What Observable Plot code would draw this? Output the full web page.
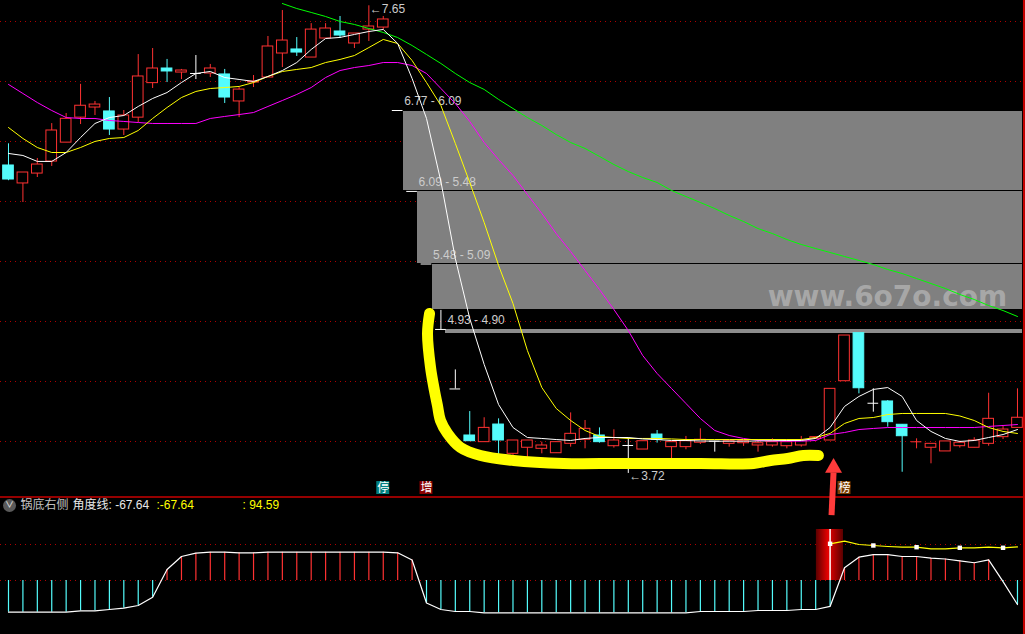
<!DOCTYPE html>
<html><head><meta charset="utf-8">
<script src="https://cdn.jsdelivr.net/npm/d3@7"></script>
<script src="https://cdn.jsdelivr.net/npm/@observablehq/plot@0.6"></script>
<style>
html,body{margin:0;padding:0;background:#000;}
#chart{width:1025px;height:634px;background:#000;position:relative;overflow:hidden;}
#chart svg{display:block;background:transparent;}
</style>
</head><body><div id="chart"></div>
<script>
// ---------- candle data (index 0..70) ----------
const opens = [6.308,6.157,6.24,6.341,6.50,6.71,6.795,6.762,6.61,6.71,
7.0,7.123,7.089,7.081,7.081,7.073,6.846,7.005,7.047,7.249,
7.283,7.215,7.375,7.434,7.333,7.45,7.467,6.77,6.09,5.48,
4.93,4.43,4.039,3.983,4.131,3.885,3.936,3.927,3.89,3.969,
4.003,4.039,3.949,3.955,3.921,4.047,3.941,3.941,3.978,3.991,
3.969,3.974,3.955,3.955,3.949,3.955,4.011,3.997,4.495,4.899,
4.31,4.325,4.129,3.983,3.936,3.905,3.949,3.936,3.969,4.025,
4.103];
const highs = [6.49,6.249,6.367,6.66,6.745,6.99,6.846,6.879,6.77,7.24,
7.291,7.199,7.115,7.232,7.157,7.115,6.963,7.064,7.392,7.61,
7.383,7.50,7.50,7.56,7.417,7.65,7.56,6.77,6.09,5.48,
5.09,4.59,4.24,4.188,4.179,3.997,3.997,3.983,3.983,4.229,
4.165,4.103,4.087,4.02,3.991,4.081,3.983,4.031,4.095,3.991,
3.991,3.991,3.997,4.011,4.003,4.031,4.025,4.431,4.879,4.899,
4.431,4.333,4.129,4.011,3.969,3.989,3.991,4.02,4.394,4.115,
4.431];
const lows = [6.18,5.997,6.207,6.30,6.50,6.652,6.728,6.56,6.56,6.669,
6.955,7.005,7.03,7.03,7.047,6.829,6.71,6.963,7.047,7.131,
7.224,7.215,7.375,7.375,7.291,7.35,7.45,6.77,6.09,5.48,
4.93,4.43,3.991,3.983,3.862,3.843,3.843,3.885,3.89,3.941,
3.927,3.975,3.933,3.72,3.921,3.975,3.829,3.919,3.963,3.899,
3.941,3.947,3.899,3.941,3.927,3.941,4.011,3.997,4.495,4.389,
4.235,4.109,3.73,3.927,3.801,3.905,3.933,3.936,3.949,4.005,
4.103];
const closes = [6.19,6.249,6.316,6.602,6.70,6.81,6.82,6.61,6.728,7.056,
7.123,7.098,7.106,7.081,7.123,6.879,6.946,7.014,7.308,7.358,
7.257,7.45,7.459,7.40,7.417,7.476,7.535,6.77,6.09,5.48,
4.93,4.43,3.991,4.103,3.997,3.997,3.997,3.955,3.983,4.053,
4.095,3.983,3.997,3.955,3.991,4.003,3.983,3.991,4.003,3.991,
3.991,3.991,3.974,3.983,3.983,3.997,4.025,4.431,4.879,4.436,
4.31,4.151,4.033,3.986,3.969,3.989,3.978,3.997,4.179,4.089,
4.188];

// ---------- moving averages ----------
const ma5 = [6.409,6.392,6.342,6.342,6.417,6.543,6.661,6.711,6.728,6.804,
6.871,6.921,7.005,7.081,7.098,7.047,7.031,7.014,7.056,7.106,
7.173,7.283,7.375,7.384,7.409,7.434,7.451,7.333,7.039,6.703,
6.173,5.526,5.022,4.636,4.299,4.106,4.022,4.014,4.005,3.997,
4.014,4.022,4.022,4.022,4.010,4.005,3.997,3.997,3.993,3.991,
3.991,3.991,3.993,3.995,3.997,3.997,4.014,4.106,4.283,4.367,
4.426,4.442,4.367,4.165,4.073,4.014,3.989,3.997,4.022,4.047,
4.089];
const ma10 = [6.627,6.535,6.459,6.417,6.417,6.459,6.510,6.535,6.543,6.602,
6.703,6.795,6.879,6.930,6.955,6.963,6.972,7.005,7.056,7.098,
7.115,7.131,7.173,7.199,7.232,7.299,7.367,7.333,7.190,7.005,
6.812,6.493,6.165,5.829,5.468,5.148,4.753,4.442,4.266,4.165,
4.081,4.031,4.022,4.014,4.014,4.014,4.010,4.005,4.005,4.005,
4.005,4.005,4.005,4.005,4.005,4.005,4.022,4.056,4.140,4.182,
4.190,4.215,4.224,4.224,4.224,4.224,4.203,4.165,4.106,4.073,
4.056];
const ma20 = [6.989,6.913,6.837,6.770,6.711,6.703,6.703,6.686,6.678,6.669,
6.661,6.661,6.661,6.661,6.703,6.720,6.736,6.753,6.804,6.854,
6.905,6.963,7.047,7.106,7.131,7.148,7.173,7.173,7.148,7.081,
6.955,6.829,6.678,6.501,6.358,6.224,6.064,5.905,5.736,5.585,
5.426,5.266,5.098,4.921,4.711,4.560,4.434,4.308,4.182,4.081,
4.039,4.014,3.997,3.993,3.991,3.991,3.997,4.047,4.064,4.089,
4.098,4.106,4.106,4.106,4.106,4.106,4.106,4.106,4.115,4.123,
4.131];
const ma60 = [null,null,null,null,null,null,null,null,null,null,
null,null,null,null,null,null,null,null,null,7.669,
7.627,7.594,7.560,7.518,7.493,7.459,7.426,7.383,7.316,7.241,
7.165,7.081,7.005,6.947,6.863,6.787,6.711,6.644,6.568,6.501,
6.451,6.384,6.316,6.257,6.207,6.165,6.098,6.047,5.997,5.946,
5.888,5.837,5.778,5.736,5.686,5.644,5.610,5.577,5.543,5.510,
5.476,5.434,5.400,5.358,5.316,5.274,5.224,5.182,5.131,5.089,
5.039];

// ---------- gap zones (缺口) ----------
const gapFrom = [27, 28, 29, 30];
const gapHigh = [6.77, 6.09, 5.48, 4.93];
const gapLow  = [6.09, 5.48, 5.09, 4.90];
const gridLevels = [7.518, 7.014, 6.509, 6.005, 5.501, 4.997, 4.493, 3.988];

// ---------- annotations ----------
const extremeIdx = [25, 43];
const extremeVal = [7.65, 3.72];
const tagIdx = [26, 29, 58];
const tagText = ["停", "增", "榜"];
const tagColor = ["#008080", "#8b0000", "#7a3c00"];
const handIdx = [29.21,29.07,29.28,29.55,29.76,29.97,30.46,31.36,32.75,35.04,38.50,42.46,48.01,51.69,52.87,54.05,55.15,56.19];
const handPrice = [5.064,4.896,4.610,4.417,4.291,4.165,4.056,3.938,3.871,3.829,3.804,3.804,3.804,3.804,3.829,3.846,3.871,3.871];
const arrowIdx = [57.10, 57.24];
const arrowPrice = [3.37, 3.728];
const arrowHeadPrice = 3.7675;
const watermark = "www.6o7o.com";

// ---------- lower indicator: 锅底右侧 ----------
const angle = [-89.3,-89.3,-89.3,-89.3,-89.3,-85.4,-85.4,-81.7,-78,-70.4,
-47,31,67.6,77,79.7,79.7,78,78,79.7,79.7,
79.7,79.7,79.7,79.7,79.7,79.7,79.7,78,57.7,-63.4,
-81.7,-87.3,-87.3,-91,-91,-91,-91,-91,-91,-91,
-91,-91,-91,-91,-91,-91,-91,-91,-87.3,-87.3,
-87.3,-87.3,-84.5,-84.5,-84.5,-81.7,-81.7,-73,35.8,65.6,
73,73,67.6,67.6,62.8,60.5,55.5,50,58.3,-3,
-67.64];
const signalLine = [null,null,null,null,null,null,null,null,null,null,
null,null,null,null,null,null,null,null,null,null,
null,null,null,null,null,null,null,null,null,null,
null,null,null,null,null,null,null,null,null,null,
null,null,null,null,null,null,null,null,null,null,
null,null,null,null,null,null,null,103.4,110.7,101.4,
98.6,95.8,93.8,93.8,89.3,89.3,92.1,92.1,93.8,92.1,
94.59];
const markerIdx = [57, 60, 63, 66, 69];
const signalBoxIdx = [57];
const signalBoxTop = [143.7];
const lowerGrid = [0, 100];

// ---------- styling ----------
const RED = "#ff3232", CYAN = "#54fcfc", GRID = "#b00000", BORDER = "#c80000";
const FONT = "'Liberation Sans', Arial, 'Noto Sans CJK SC', sans-serif";
const HW = 0.37;
const X_DOMAIN = [-0.555, 70.557];
const GAP_END = 70.35;
const TAG_LO = 3.543, TAG_HI = 3.652, TAG_Y = 3.598;
const CRISP = "crispEdges";

const candles = opens.map((o, i) => ({i, o, h: highs[i], l: lows[i], c: closes[i]}));
const col = d => d.c > d.o ? RED : d.c < d.o ? CYAN : "#ffffff";
const isFlat = d => Math.abs(d.c - d.o) < 0.008;
const bodies = candles.filter(d => !isFlat(d));
const flats = candles.filter(isFlat);
const gaps = gapFrom.map((f, k) => ({from: f, hi: gapHigh[k], lo: gapLow[k]}));
const extremes = extremeIdx.map((i, k) => ({i, v: extremeVal[k]}));
const tags = tagIdx.map((i, k) => ({i, t: tagText[k], bg: tagColor[k]}));
const hand = handIdx.map((i, k) => ({i, p: handPrice[k]}));
const series = (arr) => arr.map((v, i) => ({i, v})).filter(d => d.v != null);

const mainPlot = Plot.plot({
  width: 1025, height: 496, margin: 0,
  x: {domain: X_DOMAIN, axis: null},
  y: {domain: [3.5263, 7.6944], axis: null},
  color: {type: "identity"},
  style: {fontFamily: FONT},
  marks: [
    Plot.ruleY(gridLevels, {stroke: GRID, strokeDasharray: "1,4", shapeRendering: CRISP}),
    Plot.rect(gaps, {x1: d => d.from + 0.35, x2: GAP_END, y1: "lo", y2: "hi",
      fill: d => d.hi - d.lo > 0.1 ? "#808080" : "#8c8c8c",
      stroke: d => d.hi - d.lo > 0.1 ? "#000000" : "none", shapeRendering: CRISP}),
    Plot.text([watermark], {x: 60.98, y: 5.199, text: d => d, fill: "#ffffff", fillOpacity: 0.33,
      fontSize: 28, fontWeight: "bold", fontFamily: "'DejaVu Sans', sans-serif", textAnchor: "middle", lineAnchor: "middle"}),
    Plot.text(gaps, {x: d => d.from + 0.45, y: "hi", text: d => `${d.hi.toFixed(2)} - ${d.lo.toFixed(2)}`,
      dy: -9, textAnchor: "start", lineAnchor: "middle", fill: "#cccccc", fontSize: 12}),
    Plot.ruleX(candles, {x: "i", y1: "l", y2: "h", stroke: col}),
    Plot.rect(bodies, {x1: d => d.i - HW, x2: d => d.i + HW, y1: "o", y2: "c",
      fill: d => d.c > d.o ? "#000000" : CYAN, stroke: col}),
    Plot.ruleY(flats, {y: "c", x1: d => d.i - HW, x2: d => d.i + HW, stroke: col}),
    Plot.line(series(ma60), {x: "i", y: "v", stroke: "#00ff00", strokeWidth: 1}),
    Plot.line(series(ma20), {x: "i", y: "v", stroke: "#ff00ff", strokeWidth: 1}),
    Plot.line(series(ma10), {x: "i", y: "v", stroke: "#ffff00", strokeWidth: 1}),
    Plot.line(series(ma5), {x: "i", y: "v", stroke: "#ffffff", strokeWidth: 1}),
    Plot.text(extremes, {x: "i", y: "v", text: d => "←" + d.v.toFixed(2), dx: 1, dy: 3,
      textAnchor: "start", lineAnchor: "middle", fill: "#cccccc", fontSize: 12}),
    Plot.rect(tags, {x1: d => d.i - 0.45, x2: d => d.i + 0.45, y1: TAG_LO, y2: TAG_HI, fill: "bg"}),
    Plot.text(tags, {x: "i", y: TAG_Y, text: "t", fill: "#ffffff", fontSize: 12,
      fontFamily: "'Noto Sans CJK SC', sans-serif", lineAnchor: "middle"}),
    Plot.line(hand, {x: "i", y: "p", stroke: "#ffff00", strokeWidth: 11,
      strokeLinecap: "round", strokeLinejoin: "round", curve: "catmull-rom"}),
    Plot.link([0], {x1: arrowIdx[0], y1: arrowPrice[0], x2: arrowIdx[1], y2: arrowPrice[1],
      stroke: "#ff3b3b", strokeWidth: 6}),
    Plot.dot([0], {x: arrowIdx[1], y: arrowHeadPrice, symbol: "triangle", r: 6.3, fill: "#ff3b3b"}),
    Plot.ruleX([70.45], {stroke: BORDER, strokeWidth: 2})
  ]
});

const angleData = series(angle);
const lowerPlot = Plot.plot({
  width: 1025, height: 138, margin: 0,
  x: {domain: X_DOMAIN, axis: null},
  y: {domain: [-152.1, 236.6], axis: null},
  color: {type: "identity"},
  style: {fontFamily: FONT},
  marks: [
    Plot.ruleY(lowerGrid, {stroke: GRID, strokeDasharray: "1,4", shapeRendering: CRISP}),
    Plot.rect(signalBoxIdx, {x1: d => d - 0.95, x2: d => d + 0.93, y1: 0, y2: (d, k) => signalBoxTop[k], fill: "url(#redgrad)"}),
    Plot.ruleX(angleData, {x: "i", y1: 0, y2: "v", stroke: d => d.v >= 0 ? RED : CYAN, strokeWidth: 1.2}),
    Plot.ruleX(signalBoxIdx, {x: d => d, y1: 0, y2: (d, k) => signalBoxTop[k], stroke: "#ffffff", strokeWidth: 1.5}),
    Plot.line(angleData, {x: "i", y: "v", stroke: "#ffffff", strokeWidth: 1.2}),
    Plot.line(series(signalLine), {x: "i", y: "v", stroke: "#ffff00", strokeWidth: 1.2}),
    Plot.dot(markerIdx, {x: d => d, y: d => signalLine[d], symbol: "square", r: 2.5, fill: "#ffffff"}),
    Plot.ruleY([235.2], {stroke: BORDER, strokeWidth: 1.5}),
    Plot.ruleX([70.45], {stroke: BORDER, strokeWidth: 2}),
    Plot.dot([0], {x: 0.07, y: 211.3, r: 6.5, fill: "#5a5a5a"}),
    Plot.text(["∨"], {x: 0.07, y: 211.3, text: d => d, fill: "#d0d0d0", fontSize: 9, fontWeight: "bold", lineAnchor: "middle"}),
    Plot.text(["锅底右侧"], {frameAnchor: "top-left", dx: 20, dy: 9, text: d => d, fill: "#c0c0c0", fontSize: 12,
      textAnchor: "start", lineAnchor: "middle", fontFamily: "'Noto Sans CJK SC', sans-serif"}),
    Plot.text(["角度线: -67.64"], {frameAnchor: "top-left", dx: 72, dy: 9, text: d => d, fill: "#e8e8e8", fontSize: 12,
      textAnchor: "start", lineAnchor: "middle"}),
    Plot.text([":-67.64"], {frameAnchor: "top-left", dx: 156, dy: 9, text: d => d, fill: "#ffff00", fontSize: 12,
      textAnchor: "start", lineAnchor: "middle"}),
    Plot.text([": 94.59"], {frameAnchor: "top-left", dx: 242, dy: 9, text: d => d, fill: "#ffff00", fontSize: 12,
      textAnchor: "start", lineAnchor: "middle"})
  ]
});

// gradient used by the signal box
const defs = d3.select(lowerPlot).insert("defs", ":first-child");
const grad = defs.append("linearGradient").attr("id", "redgrad").attr("x1", "0%").attr("x2", "100%");
grad.append("stop").attr("offset", "0%").attr("stop-color", "#5a0000");
grad.append("stop").attr("offset", "45%").attr("stop-color", "#e80000");
grad.append("stop").attr("offset", "55%").attr("stop-color", "#d00000");
grad.append("stop").attr("offset", "100%").attr("stop-color", "#5a0000");

for (const s of [mainPlot, lowerPlot]) { s.style.background = "transparent"; s.style.display = "block"; s.style.maxWidth = "none"; }
mainPlot.style.overflow = "visible";
mainPlot.style.position = "relative";
mainPlot.style.zIndex = "2";
const chartEl = document.getElementById("chart");
chartEl.appendChild(mainPlot);
chartEl.appendChild(lowerPlot);
</script></body></html>
